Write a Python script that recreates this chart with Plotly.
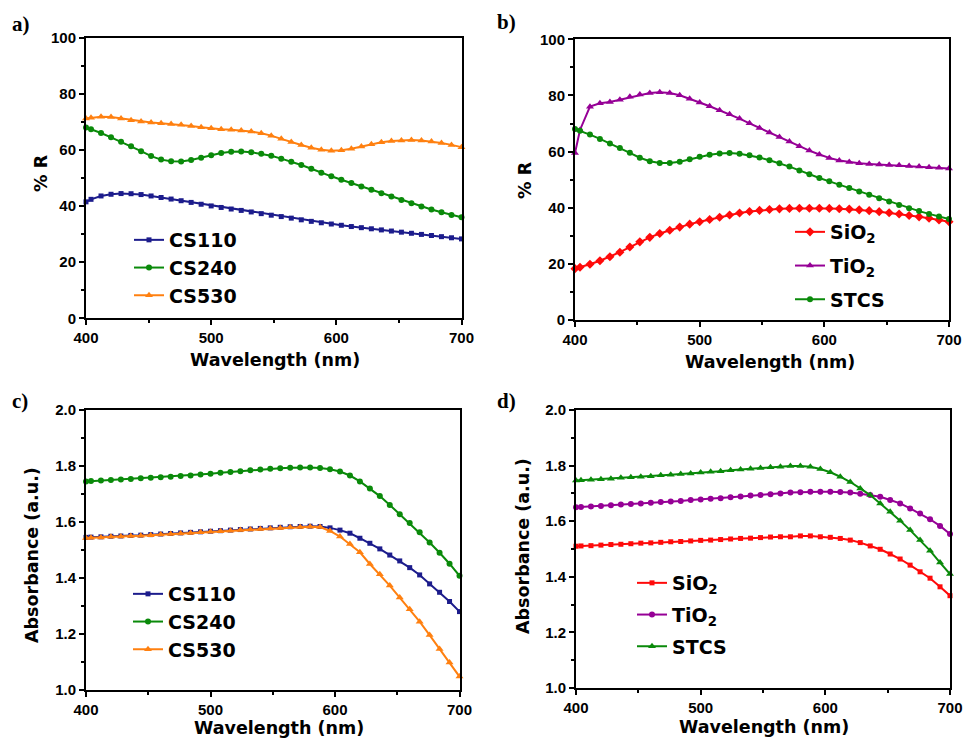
import plotly.graph_objects as go

# ---------------- data ----------------
wavelength = [400, 404, 412, 420, 428, 436, 444, 452, 460, 468, 476, 484, 492, 500,
              508, 516, 524, 532, 540, 548, 556, 564, 572, 580, 588, 596, 604, 612,
              620, 628, 636, 644, 652, 660, 668, 676, 684, 692, 700]

# panel a : reflectance (%R)
r_cs110 = [41.5, 42.4, 43.6, 44.2, 44.45, 44.4, 44.1, 43.6, 43.05, 42.5, 41.9, 41.3, 40.65,
           40.05, 39.5, 38.95, 38.45, 37.9, 37.3, 36.75, 36.25, 35.7, 35.1, 34.55, 34.05,
           33.6, 33.15, 32.7, 32.3, 31.9, 31.5, 31.1, 30.7, 30.3, 29.9, 29.5, 29.1, 28.7, 28.3]
r_cs240 = [68.0, 67.4, 66.05, 64.5, 62.9, 61.3, 59.55, 57.8, 56.55, 55.95, 55.9, 56.4, 57.25,
           58.15, 58.9, 59.35, 59.45, 59.2, 58.65, 57.9, 56.9, 55.8, 54.65, 53.3, 51.9, 50.6,
           49.4, 48.2, 47.0, 45.8, 44.6, 43.4, 42.2, 41.0, 39.85, 38.8, 37.8, 36.85, 36.0]
r_cs530 = [71.2, 71.5, 71.85, 71.7, 71.2, 70.6, 70.1, 69.75, 69.5, 69.25, 68.95, 68.55, 68.1,
           67.7, 67.4, 67.2, 66.95, 66.55, 65.95, 65.1, 63.95, 62.8, 61.75, 60.8, 60.1, 59.75,
           59.85, 60.4, 61.25, 62.05, 62.7, 63.15, 63.4, 63.5, 63.35, 63.0, 62.5, 61.8, 61.0]

# panel b : reflectance (%R)
r_sio2 = [18.3, 18.8, 19.85, 21.1, 22.55, 24.15, 26.0, 27.85, 29.45, 30.8, 31.95, 33.1, 34.15,
          35.0, 35.8, 36.6, 37.4, 38.1, 38.65, 39.05, 39.35, 39.6, 39.75, 39.8, 39.8, 39.8,
          39.75, 39.65, 39.5, 39.25, 38.95, 38.6, 38.2, 37.75, 37.25, 36.75, 36.25, 35.65, 35.0]
r_tio2 = [59.5, 67.7, 76.0, 77.2, 77.7, 78.5, 79.5, 80.35, 80.9, 81.1, 80.85, 80.05, 78.85,
          77.5, 76.15, 74.75, 73.3, 71.75, 70.05, 68.4, 66.8, 65.2, 63.55, 61.9, 60.35, 58.95,
          57.75, 56.85, 56.25, 55.85, 55.6, 55.4, 55.25, 55.1, 54.9, 54.65, 54.4, 54.2, 54.0]
r_stcs = [68.0, 67.4, 66.05, 64.5, 62.9, 61.3, 59.55, 57.8, 56.55, 55.95, 55.9, 56.4, 57.25,
          58.15, 58.9, 59.35, 59.45, 59.2, 58.65, 57.9, 56.9, 55.8, 54.65, 53.3, 51.9, 50.6,
          49.4, 48.2, 47.0, 45.8, 44.6, 43.4, 42.2, 41.0, 39.85, 38.8, 37.8, 36.85, 36.0]

# panel c : absorbance (a.u.)
a_cs110 = [1.545, 1.546, 1.547, 1.549, 1.550, 1.552, 1.553, 1.555, 1.557, 1.559, 1.561, 1.563,
           1.565, 1.567, 1.569, 1.571, 1.573, 1.575, 1.577, 1.579, 1.581, 1.583, 1.584, 1.585,
           1.584, 1.579, 1.571, 1.560, 1.542, 1.524, 1.504, 1.482, 1.461, 1.437, 1.411, 1.379,
           1.349, 1.316, 1.280]
a_cs240 = [1.745, 1.746, 1.748, 1.750, 1.752, 1.754, 1.756, 1.758, 1.760, 1.762, 1.764, 1.7665,
           1.7695, 1.7725, 1.7755, 1.7785, 1.7815, 1.7845, 1.7875, 1.790, 1.792, 1.7935, 1.7945,
           1.7945, 1.7925, 1.7885, 1.7805, 1.766, 1.745, 1.720, 1.6925, 1.661, 1.628, 1.596,
           1.563, 1.527, 1.490, 1.451, 1.408]
a_cs530 = [1.543, 1.544, 1.545, 1.547, 1.548, 1.550, 1.551, 1.553, 1.555, 1.557, 1.559, 1.561,
           1.563, 1.565, 1.567, 1.569, 1.571, 1.573, 1.575, 1.577, 1.579, 1.581, 1.582, 1.583,
           1.582, 1.568, 1.548, 1.521, 1.492, 1.450, 1.413, 1.373, 1.330, 1.288, 1.244, 1.196,
           1.146, 1.098, 1.048]

# panel d : absorbance (a.u.)
a_sio2 = [1.510, 1.511, 1.512, 1.514, 1.516, 1.517, 1.519, 1.521, 1.522, 1.524, 1.526, 1.527,
          1.529, 1.531, 1.532, 1.534, 1.536, 1.538, 1.539, 1.541, 1.543, 1.544, 1.544, 1.547,
          1.547, 1.544, 1.542, 1.538, 1.532, 1.523, 1.511, 1.499, 1.482, 1.464, 1.442, 1.418,
          1.395, 1.364, 1.332]
a_tio2 = [1.650, 1.651, 1.653, 1.655, 1.657, 1.660, 1.662, 1.664, 1.666, 1.669, 1.671, 1.673,
          1.676, 1.678, 1.681, 1.683, 1.686, 1.689, 1.692, 1.694, 1.697, 1.700, 1.703, 1.704,
          1.706, 1.706, 1.706, 1.705, 1.703, 1.699, 1.694, 1.688, 1.676, 1.664, 1.646, 1.628,
          1.607, 1.583, 1.554]
a_stcs = [1.746, 1.747, 1.749, 1.751, 1.753, 1.756, 1.758, 1.760, 1.762, 1.765, 1.767, 1.770,
          1.772, 1.775, 1.778, 1.780, 1.783, 1.786, 1.789, 1.791, 1.794, 1.796, 1.799, 1.799,
          1.796, 1.788, 1.776, 1.760, 1.741, 1.718, 1.694, 1.664, 1.634, 1.602, 1.568, 1.532,
          1.494, 1.451, 1.410]

# ---------------- styling ----------------
NAVY = "#1c1c8c"
GREEN = "#0a8a0a"
ORANGE = "#ff8010"
RED = "#ff0a0a"
PURPLE = "#960096"

W, H = 965, 739
TICKFAMILY = "Liberation Sans, Arial, sans-serif"
BIGFAMILY = "DejaVu Sans, Verdana, sans-serif"

def px_x(x):
    return x / W

def px_y(y):
    return 1 - y / H

SYMSIZE = {"square": 5, "circle": 6, "triangle-up": 7, "diamond": 7}

fig = go.Figure()

panels = [
    ("x", "y", "legend", "a", [
        ("CS110", r_cs110, NAVY, "square"),
        ("CS240", r_cs240, GREEN, "circle"),
        ("CS530", r_cs530, ORANGE, "triangle-up"),
    ]),
    ("x2", "y2", "legend2", "b", [
        ("SiO<sub>2</sub>", r_sio2, RED, "diamond"),
        ("TiO<sub>2</sub>", r_tio2, PURPLE, "triangle-up"),
        ("STCS", r_stcs, GREEN, "circle"),
    ]),
    ("x3", "y3", "legend3", "c", [
        ("CS110", a_cs110, NAVY, "square"),
        ("CS240", a_cs240, GREEN, "circle"),
        ("CS530", a_cs530, ORANGE, "triangle-up"),
    ]),
    ("x4", "y4", "legend4", "d", [
        ("SiO<sub>2</sub>", a_sio2, RED, "square"),
        ("TiO<sub>2</sub>", a_tio2, PURPLE, "circle"),
        ("STCS", a_stcs, GREEN, "triangle-up"),
    ]),
]

for xa, ya, lg, pid, series in panels:
    for i, (name, vals, col, sym) in enumerate(series):
        fig.add_trace(go.Scatter(
            x=wavelength, y=vals, name=name, mode="lines+markers",
            line=dict(color=col, width=2),
            marker=dict(color=col, symbol=sym, size=SYMSIZE[sym]),
            xaxis=xa, yaxis=ya, legend=lg, legendgroup=f"{pid}{i}",
            cliponaxis=False,
        ))

tickfont = dict(family=TICKFAMILY, size=15, color="black", weight="bold")
titlefont = dict(family=BIGFAMILY, size=17.5, color="black", weight="bold")

def xaxis(domain, anchor):
    return dict(
        domain=domain, anchor=anchor, range=[400, 700], dtick=100,
        showline=True, mirror=True, linecolor="black", linewidth=2,
        ticks="outside", ticklen=5, tickwidth=1.5, tickcolor="black",
        minor=dict(dtick=50, ticks="outside", ticklen=3, tickwidth=1.5, tickcolor="black"),
        showgrid=False, zeroline=False, tickfont=tickfont, automargin=False,
    )

def yaxis(domain, anchor, rng, dt, mdt, fmt):
    return dict(
        domain=domain, anchor=anchor, range=rng, dtick=dt, tickformat=fmt,
        showline=True, mirror=True, linecolor="black", linewidth=2,
        ticks="outside", ticklen=5, tickwidth=1.5, tickcolor="black",
        minor=dict(dtick=mdt, ticks="outside", ticklen=3, tickwidth=1.5, tickcolor="black"),
        showgrid=False, zeroline=False, tickfont=tickfont, automargin=False,
    )

ax_a = [px_x(86), px_x(461.5)]
ax_b = [px_x(575), px_x(949)]
ax_c = [px_x(86), px_x(459.5)]
ax_d = [px_x(576), px_x(950)]
ay_a = [px_y(318.3), px_y(37.7)]
ay_b = [px_y(320), px_y(39.3)]
ay_c = [px_y(690), px_y(410)]
ay_d = [px_y(688), px_y(410)]

legfont = dict(family=BIGFAMILY, size=19, color="black", weight="bold")

def legend(x, y, gap):
    return dict(x=px_x(x), y=px_y(y), xanchor="left", yanchor="top",
                bgcolor="rgba(0,0,0,0)", font=legfont, tracegroupgap=gap,
                itemwidth=30)

fig.update_layout(
    width=W, height=H,
    margin=dict(l=0, r=0, t=0, b=0, autoexpand=False),
    paper_bgcolor="white", plot_bgcolor="white",
    xaxis=xaxis(ax_a, "y"),
    yaxis=yaxis(ay_a, "x", [0, 100], 20, 10, "d"),
    xaxis2=xaxis(ax_b, "y2"),
    yaxis2=yaxis(ay_b, "x2", [0, 100], 20, 10, "d"),
    xaxis3=xaxis(ax_c, "y3"),
    yaxis3=yaxis(ay_c, "x3", [1.0, 2.0], 0.2, 0.1, ".1f"),
    xaxis4=xaxis(ax_d, "y4"),
    yaxis4=yaxis(ay_d, "x4", [1.0, 2.0], 0.2, 0.1, ".1f"),
    legend=legend(129, 221, 0),
    legend2=legend(790, 213, 6),
    legend3=legend(128, 575, 0),
    legend4=legend(632, 564, 4),
    showlegend=True,
)

# axis titles
axis_titles = [
    ("% R", 41, 173, -90), ("% R", 525, 180, -90),
    ("Absorbance (a.u.)", 32, 555, -90), ("Absorbance (a.u.)", 523, 546, -90),
    ("Wavelength (nm)", 275, 360, 0), ("Wavelength (nm)", 770, 362, 0),
    ("Wavelength (nm)", 279, 728, 0), ("Wavelength (nm)", 764, 727, 0),
]
for txt, x, y, ang in axis_titles:
    fig.add_annotation(text=txt, x=px_x(x), y=px_y(y), xref="paper", yref="paper",
                       xanchor="center", yanchor="middle", showarrow=False,
                       textangle=ang, font=titlefont)

labelfont = dict(family="Liberation Serif, Times New Roman, serif", size=21,
                 color="black", weight="bold")
for txt, x, y in [("a)", 10, 24), ("b)", 495, 22), ("c)", 10, 401), ("d)", 495, 401)]:
    fig.add_annotation(text=txt, x=px_x(x), y=px_y(y), xref="paper", yref="paper",
                       xanchor="left", yanchor="middle", showarrow=False, font=labelfont)

fig.write_html("out.html", config={"displayModeBar": False},
               post_script="document.body.style.margin='0';")
